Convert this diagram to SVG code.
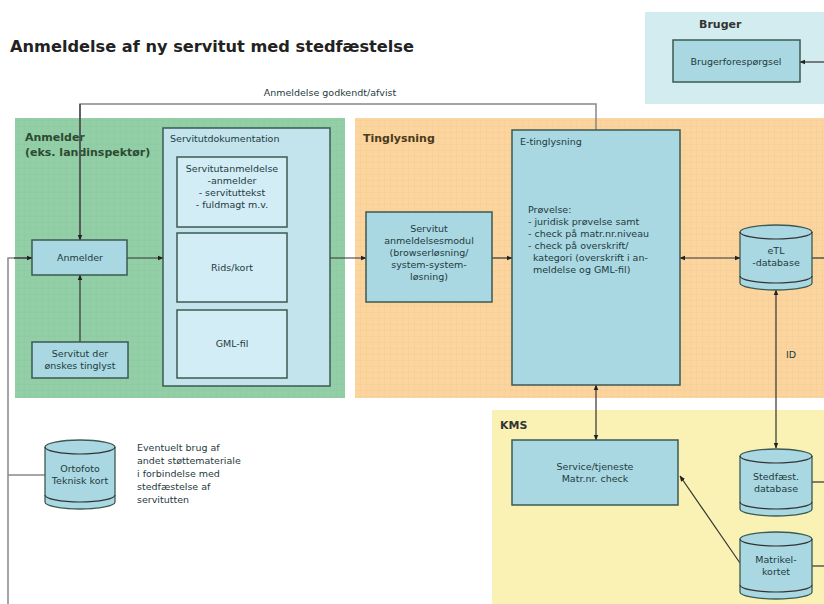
<svg xmlns="http://www.w3.org/2000/svg" width="824" height="604" viewBox="0 0 824 604">
<style>
.t{font-family:"DejaVu Sans","Liberation Sans",sans-serif;font-size:9.5px;fill:#1f3a40}
.tc{font-family:"DejaVu Sans","Liberation Sans",sans-serif;font-size:9.5px;fill:#1f3a40;text-anchor:middle}
.h{font-family:"DejaVu Sans","Liberation Sans",sans-serif;font-size:11px;font-weight:bold}
.box{fill:#a9d8e2;stroke:#3d5a52;stroke-width:1.5}
.lbox{fill:#c3e4ec;stroke:#3d5a52;stroke-width:1.5}
.ibox{fill:#d3edf6;stroke:#3d5a52;stroke-width:1.5}
.cyl{fill:#a9d8e2;stroke:#3d5a52;stroke-width:1.3}
.ln{fill:none;stroke:#333;stroke-width:1.2}
.gl{fill:none;stroke:#888;stroke-width:1.5}
</style>
<defs>
<marker id="a" viewBox="0 0 10 10" refX="9" refY="5" markerWidth="5" markerHeight="5" orient="auto-start-reverse">
<path d="M0,1 L10,5 L0,9 Z" fill="#222"/>
</marker>
<pattern id="gg" width="6" height="6" patternUnits="userSpaceOnUse">
<rect width="6" height="6" fill="#93cfa6"/>
<path d="M0,0H6M0,0V6" stroke="#84c598" stroke-width="0.6"/>
</pattern>
<pattern id="og" width="6" height="6" patternUnits="userSpaceOnUse">
<rect width="6" height="6" fill="#fbd49e"/>
<path d="M0,0H6M0,0V6" stroke="#f2c88f" stroke-width="0.6"/>
</pattern>
</defs>
<rect width="824" height="604" fill="#fff"/>
<text x="10" y="52" font-family="DejaVu Sans,Liberation Sans,sans-serif" font-size="15" font-weight="bold" fill="#222" textLength="404" lengthAdjust="spacingAndGlyphs">Anmeldelse af ny servitut med stedfæstelse</text>

<g id="region-bruger">
<rect x="645" y="12" width="179" height="92" fill="#d3ecf0"/>
<text x="699" y="28" class="h" fill="#333">Bruger</text>
</g>
<g id="region-anmelder">
<rect x="15" y="118" width="330" height="280" fill="url(#gg)"/>
<text x="25" y="141" class="h" fill="#2d4a32">Anmelder</text>
<text x="25" y="156" class="h" fill="#2d4a32">(eks. landinspektør)</text>
</g>
<g id="region-tinglysning">
<rect x="355" y="118" width="469" height="280" fill="url(#og)"/>
<text x="363" y="142" class="h" fill="#4a3a1a">Tinglysning</text>
</g>
<g id="region-kms">
<rect x="492" y="410" width="332" height="194" fill="#faf1b5"/>
<text x="500" y="429" class="h" fill="#333">KMS</text>
</g>

<g id="connectors">
<polyline class="gl" points="80,240 80,104 596,104 596,130"/>
<polyline class="ln" points="80,104 80,240" marker-end="url(#a)"/>
<text x="330" y="96" class="tc">Anmeldelse godkendt/afvist</text>
<line class="ln" x1="80" y1="342" x2="80" y2="275" marker-end="url(#a)"/>
<line class="ln" x1="127" y1="258" x2="163" y2="258" marker-end="url(#a)"/>
<polyline class="gl" points="8,604 8,258 32,258"/>
<line class="ln" x1="14" y1="258" x2="32" y2="258" marker-end="url(#a)"/>
<line class="gl" x1="8" y1="475" x2="45" y2="475"/>
<line class="ln" x1="330" y1="258" x2="366" y2="258" marker-end="url(#a)"/>
<line class="ln" x1="492" y1="258" x2="512" y2="258" marker-end="url(#a)"/>
<line class="ln" x1="680" y1="258" x2="740" y2="258" marker-start="url(#a)" marker-end="url(#a)"/>
<line class="ln" x1="812" y1="258" x2="824" y2="258"/>
<line class="ln" x1="824" y1="62" x2="800" y2="62" marker-end="url(#a)"/>
<line class="ln" x1="776" y1="290" x2="776" y2="448" marker-start="url(#a)" marker-end="url(#a)"/>
<text x="786" y="358" class="t">ID</text>
<line class="ln" x1="596" y1="385" x2="596" y2="440" marker-start="url(#a)" marker-end="url(#a)"/>
<line class="ln" x1="740" y1="563" x2="680" y2="476" marker-end="url(#a)"/>
<line class="ln" x1="812" y1="482" x2="824" y2="482"/>
<line class="ln" x1="812" y1="566" x2="824" y2="566"/>
<path class="ln" d="M290,160 Q297,160 297,168 V222 Q297,230 302,230 Q297,230 297,238 V292 Q297,300 290,300"/>
<text x="304" y="228" class="t" font-size="7">XML/</text>
<text x="304" y="238" class="t" font-size="7">PDF</text>
</g>

<g id="brugerforespoergsel">
<rect x="673" y="40" width="127" height="42" class="box"/>
<text x="736" y="65" class="tc" font-size="9">Brugerforespørgsel</text>
</g>
<g id="anmelder">
<rect x="32" y="240" width="95" height="35" class="box"/>
<text x="80" y="261" class="tc" font-size="10">Anmelder</text>
</g>
<g id="servitut-oenskes">
<rect x="32" y="342" width="96" height="36" class="box"/>
<text x="80" y="357" class="tc">Servitut der</text>
<text x="80" y="369" class="tc">ønskes tinglyst</text>
</g>
<g id="servitutdokumentation">
<rect x="163" y="128" width="167" height="258" class="lbox"/>
<text x="170" y="142" class="t">Servitutdokumentation</text>
</g>
<g id="servitutanmeldelse">
<rect x="177" y="157" width="110" height="70" class="ibox"/>
<text x="232" y="172" class="tc">Servitutanmeldelse</text>
<text x="232" y="184" class="tc">-anmelder</text>
<text x="232" y="196" class="tc">- servituttekst</text>
<text x="232" y="208" class="tc">- fuldmagt m.v.</text>
</g>
<g id="rids-kort">
<rect x="177" y="233" width="110" height="69" class="ibox"/>
<text x="232" y="271" class="tc" font-size="10">Rids/kort</text>
</g>
<g id="gml-fil">
<rect x="177" y="310" width="110" height="68" class="ibox"/>
<text x="232" y="347" class="tc" font-size="10">GML-fil</text>
</g>
<g id="anmeldelsesmodul">
<rect x="366" y="212" width="126" height="90" class="box"/>
<text x="429" y="232" class="tc">Servitut</text>
<text x="429" y="244" class="tc">anmeldelsesmodul</text>
<text x="429" y="256" class="tc">(browserløsning/</text>
<text x="429" y="268" class="tc">system-system-</text>
<text x="429" y="280" class="tc">løsning)</text>
</g>
<g id="e-tinglysning">
<rect x="512" y="130" width="168" height="255" class="box"/>
<text x="520" y="145" class="t">E-tinglysning</text>
<text x="528" y="213" class="t">Prøvelse:</text>
<text x="528" y="225" class="t">- juridisk prøvelse samt</text>
<text x="528" y="237" class="t">- check på matr.nr.niveau</text>
<text x="528" y="249" class="t">- check på overskrift/</text>
<text x="533" y="261" class="t">kategori (overskrift i an-</text>
<text x="533" y="273" class="t">meldelse og GML-fil)</text>
</g>
<g id="etl-database">
<path class="cyl" d="M740,232 A36,7 0 0 1 812,232 V283 A36,7 0 0 1 740,283 Z"/>
<path class="ln" d="M740,232 A36,7 0 0 0 812,232 M740,276 A36,7 0 0 0 812,276" stroke="#3d5a52"/>
<text x="776" y="254" class="tc">eTL</text>
<text x="776" y="266" class="tc">-database</text>
</g>
<g id="service">
<rect x="512" y="440" width="166" height="65" class="box"/>
<text x="595" y="470" class="tc">Service/tjeneste</text>
<text x="595" y="482" class="tc">Matr.nr. check</text>
</g>
<g id="stedfaest-database">
<path class="cyl" d="M740,456 A36,7 0 0 1 812,456 V509 A36,7 0 0 1 740,509 Z"/>
<path class="ln" d="M740,456 A36,7 0 0 0 812,456 M740,502 A36,7 0 0 0 812,502" stroke="#3d5a52"/>
<text x="776" y="480" class="tc">Stedfæst.</text>
<text x="776" y="492" class="tc">database</text>
</g>
<g id="matrikelkortet">
<path class="cyl" d="M740,539 A36,7 0 0 1 812,539 V592 A36,7 0 0 1 740,592 Z"/>
<path class="ln" d="M740,539 A36,7 0 0 0 812,539 M740,585 A36,7 0 0 0 812,585" stroke="#3d5a52"/>
<text x="776" y="563" class="tc">Matrikel-</text>
<text x="776" y="575" class="tc">kortet</text>
</g>
<g id="ortofoto">
<path class="cyl" d="M45,447 A35,7 0 0 1 115,447 V502 A35,7 0 0 1 45,502 Z"/>
<path class="ln" d="M45,447 A35,7 0 0 0 115,447 M45,495 A35,7 0 0 0 115,495" stroke="#3d5a52"/>
<text x="80" y="472" class="tc">Ortofoto</text>
<text x="80" y="484" class="tc">Teknisk kort</text>
</g>
<g id="stoettemateriale-note">
<text x="137" y="451" class="t" fill="#222">Eventuelt brug af</text>
<text x="137" y="464" class="t" fill="#222">andet støttemateriale</text>
<text x="137" y="477" class="t" fill="#222">i forbindelse med</text>
<text x="137" y="490" class="t" fill="#222">stedfæstelse af</text>
<text x="137" y="503" class="t" fill="#222">servitutten</text>
</g>
</svg>
